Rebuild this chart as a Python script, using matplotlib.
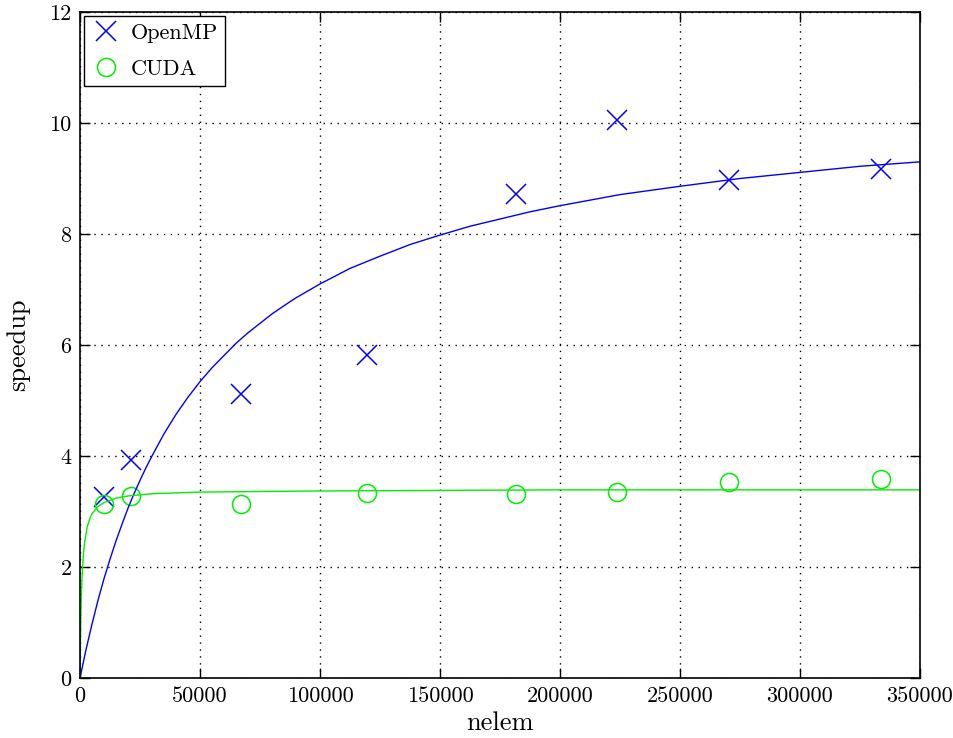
import matplotlib
matplotlib.use("Agg")
import matplotlib.pyplot as plt

plt.rcParams['font.family'] = ['cmr10', 'DejaVu Serif']
plt.rcParams['mathtext.fontset'] = 'cm'
plt.rcParams['axes.formatter.use_mathtext'] = True

# measured points
nelem = [10000, 21250, 67100, 119600, 181700, 223750, 270400, 333750]
openmp = [3.26, 3.93, 5.12, 5.82, 8.72, 10.05, 8.97, 9.17]
cuda = [3.14, 3.28, 3.14, 3.33, 3.32, 3.35, 3.53, 3.59]

# fitted curves
fit_x_omp = [0, 2500, 5000, 7500, 10000, 12500, 15000, 17500, 20000, 22500, 25000,
             27500, 30000, 35000, 40000, 45000, 50000, 55000, 60000, 65000, 70000,
             75000, 80000, 87500, 90000, 100000, 112500, 125000, 137500, 150000,
             162500, 175000, 187500, 200000, 225000, 250000, 275000, 300000,
             325000, 350000]
fit_y_omp = [0, 0.51, 0.97, 1.40, 1.79, 2.14, 2.47, 2.77, 3.06, 3.32, 3.56,
             3.79, 4.00, 4.40, 4.75, 5.06, 5.34, 5.59, 5.81, 6.03, 6.22,
             6.39, 6.56, 6.78, 6.85, 7.10, 7.38, 7.60, 7.81, 7.98,
             8.14, 8.27, 8.40, 8.51, 8.71, 8.86, 9.00, 9.11,
             9.22, 9.30]
fit_x_cuda = [0, 250, 500, 750, 1000, 1500, 2000, 3000, 4000, 5000, 7500, 10000,
              15000, 20000, 30000, 50000, 100000, 200000, 350000]
fit_y_cuda = [0, 0.85, 1.36, 1.70, 1.94, 2.27, 2.47, 2.72, 2.86, 2.96, 3.09, 3.16,
              3.24, 3.28, 3.32, 3.35, 3.37, 3.39, 3.39]

xticks = [0, 50000, 100000, 150000, 200000, 250000, 300000, 350000]
yticks = [0, 2, 4, 6, 8, 10, 12]

fig = plt.figure(figsize=(9.54, 7.38), dpi=100)
ax = fig.add_axes([80/954, 60/738, 840/954, 666/738])

ax.plot(nelem, openmp, linestyle='none', marker='x', markersize=14,
        markeredgewidth=1.1, color='#0000ff', label='OpenMP')
ax.plot(nelem, cuda, linestyle='none', marker='o', markersize=13,
        markerfacecolor='none', markeredgewidth=1.1, color='#00ee00', label='CUDA')
ax.plot(fit_x_omp, fit_y_omp, color='#0000ff', lw=1.0)
ax.plot(fit_x_cuda, fit_y_cuda, color='#00ee00', lw=1.0)

ax.set_xlim(0, 350000)
ax.set_ylim(0, 12)
ax.set_xticks(xticks)
ax.set_xticklabels([str(v) for v in xticks])
ax.set_yticks(yticks)
ax.set_yticklabels([str(v) for v in yticks])
ax.tick_params(direction='in', top=True, right=True, length=7, width=1,
               labelsize=16, pad=6)
ax.grid(True, linestyle=(0, (1, 4)), color='black', lw=1.0)
for s in ax.spines.values():
    s.set_linewidth(1.2)

ax.set_xlabel('nelem', fontsize=19, labelpad=4)
ax.set_ylabel('speedup', fontsize=19, labelpad=14)

leg = ax.legend(loc='upper left', fontsize=16, fancybox=False, framealpha=1,
                edgecolor='black', borderaxespad=0.2, handlelength=1.3,
                handletextpad=0.5, borderpad=0.3, labelspacing=0.75)
leg.get_frame().set_linewidth(1.0)

fig.savefig('out.png', dpi=100)
